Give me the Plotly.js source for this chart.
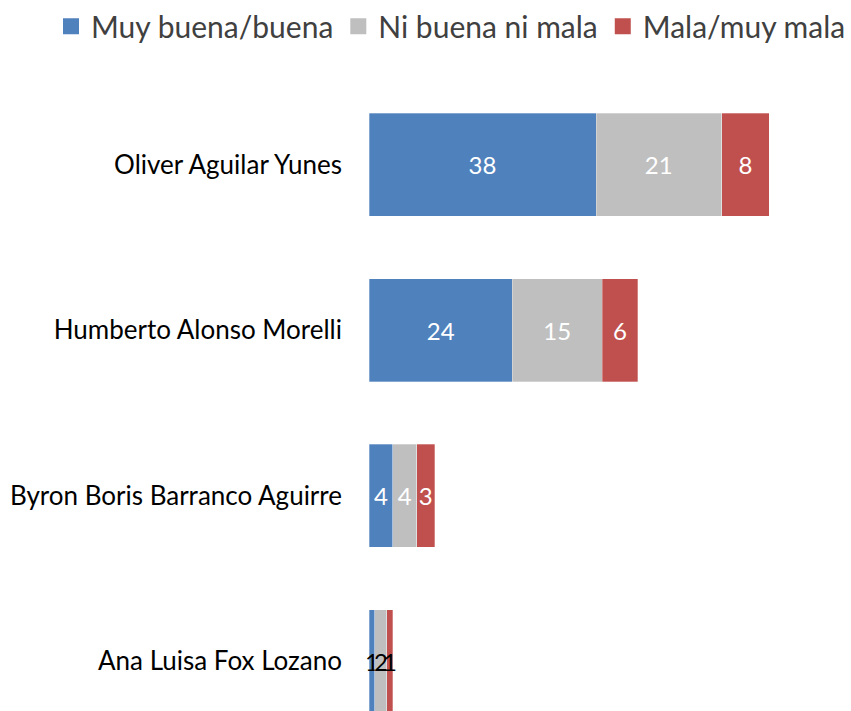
<!DOCTYPE html>
<html>
<head>
<meta charset="utf-8">
<script src="https://cdn.plot.ly/plotly-3.0.1.min.js"></script>
<style>html,body{margin:0;padding:0;background:#fff;}#chart{width:851px;height:711px;}</style>
</head>
<body>
<div id="chart"></div>
<script>
const categories = ["Oliver Aguilar Yunes", "Humberto Alonso Morelli", "Byron Boris Barranco Aguirre", "Ana Luisa Fox Lozano"];
const seriesNames = ["Muy buena/buena", "Ni buena ni mala", "Mala/muy mala"];
const muyBuena = [38, 24, 4, 1];
const niBuena = [21, 15, 4, 2];
const mala = [8, 6, 3, 1];
const colors = ["#4F81BD", "#BFBFBF", "#C0504D"];
const labelColors = ["#FFFFFF", "#FFFFFF", "#FFFFFF", "#000000"];

const fontFam = "Lato, 'Noto Sans', sans-serif";
const values = [muyBuena, niBuena, mala];
const traces = values.map((v, i) => ({
  type: "bar",
  orientation: "h",
  name: seriesNames[i],
  y: categories,
  x: v,
  text: v.map(String),
  textposition: "inside",
  insidetextanchor: "middle",
  constraintext: "none",
  insidetextfont: {color: labelColors, size: 24, family: fontFam},
  textfont: {color: labelColors, size: 24, family: fontFam},
  marker: {color: colors[i], line: {color: "rgba(255,255,255,0.6)", width: 0.5}},
  cliponaxis: false,
  showlegend: false,
  legendgroup: "g" + i,
  hoverinfo: "skip"
}));
// legend entries (square swatches)
seriesNames.forEach((n, i) => traces.push({
  type: "scatter",
  mode: "markers",
  name: n,
  x: [null],
  y: [null],
  legendgroup: "g" + i,
  marker: {symbol: "square", size: 16, color: colors[i]},
  hoverinfo: "skip"
}));

const layout = {
  width: 851,
  height: 711,
  margin: {l: 369, r: 4, t: 80, b: 0},
  barmode: "stack",
  bargap: 0.38,
  paper_bgcolor: "#fff",
  plot_bgcolor: "#fff",
  font: {family: fontFam, color: "#000"},
  xaxis: {range: [0, 80], showgrid: false, zeroline: false, showline: false, showticklabels: false, ticks: "", fixedrange: true},
  yaxis: {
    type: "category",
    categoryorder: "array",
    categoryarray: categories,
    range: [3.301, -0.5],
    showgrid: false, zeroline: false, showline: false, ticks: "",
    ticklabelstandoff: 26,
    tickfont: {size: 26, color: "#000", family: fontFam}
  },
  showlegend: true,
  legend: {
    orientation: "h",
    x: -0.663, xanchor: "left",
    y: 1.13, yanchor: "top",
    font: {size: 30, color: "#404040", family: fontFam},
    traceorder: "normal",
    itemwidth: 30,
    itemclick: false
  }
};

Plotly.newPlot("chart", traces, layout, {displayModeBar: false, staticPlot: true});
</script>
</body>
</html>
